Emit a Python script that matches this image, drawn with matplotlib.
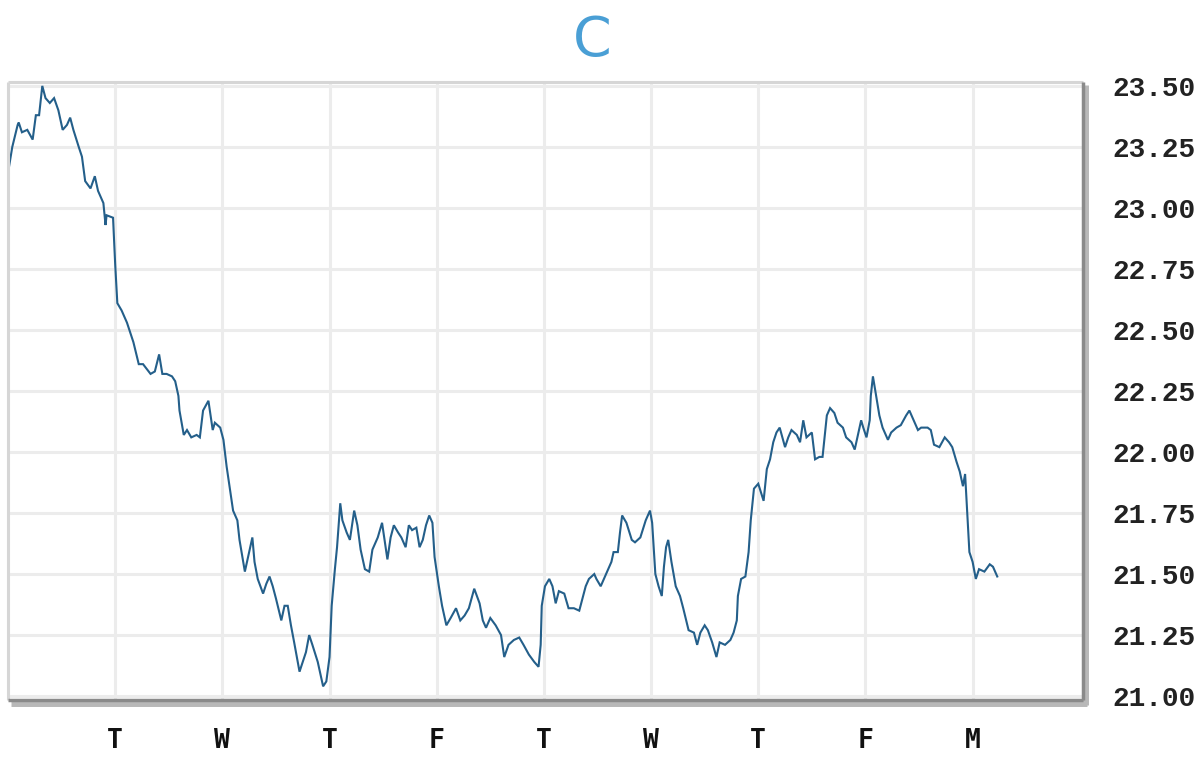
import matplotlib
matplotlib.use("Agg")
import matplotlib.pyplot as plt
from matplotlib.lines import Line2D

title = "C"
day_labels = ["T", "W", "T", "F", "T", "W", "T", "F", "M"]
day_ticks = [1, 2, 3, 4, 5, 6, 7, 8, 9]
price_ticks = [21.00, 21.25, 21.50, 21.75, 22.00, 22.25, 22.50, 22.75, 23.00, 23.25, 23.50]

days = [
    0.01, 0.04, 0.09, 0.10, 0.13, 0.18, 0.23, 0.26, 0.29, 0.32, 0.35, 0.39, 0.43, 0.47, 0.51,
    0.55, 0.58, 0.61, 0.66, 0.69, 0.72, 0.77, 0.81, 0.84, 0.89, 0.91, 0.92, 0.98, 1.00, 1.02,
    1.06, 1.11, 1.17, 1.22, 1.26, 1.33, 1.37, 1.41, 1.44, 1.48, 1.53, 1.56, 1.59, 1.60, 1.64,
    1.67, 1.71, 1.76, 1.79, 1.82, 1.87, 1.91, 1.93, 1.98, 2.01, 2.04, 2.07, 2.10, 2.14, 2.16,
    2.21, 2.24, 2.28, 2.30, 2.33, 2.38, 2.41, 2.44, 2.47, 2.50, 2.55, 2.58, 2.61, 2.64, 2.67,
    2.72, 2.75, 2.78, 2.81, 2.84, 2.89, 2.94, 2.97, 3.00, 3.02, 3.05, 3.07, 3.10, 3.12, 3.16,
    3.19, 3.23, 3.26, 3.29, 3.33, 3.37, 3.40, 3.45, 3.49, 3.54, 3.57, 3.60, 3.64, 3.67, 3.71,
    3.74, 3.77, 3.81, 3.84, 3.87, 3.90, 3.93, 3.96, 3.98, 4.02, 4.05, 4.09, 4.13, 4.18, 4.22,
    4.26, 4.30, 4.35, 4.40, 4.43, 4.46, 4.50, 4.55, 4.60, 4.63, 4.67, 4.72, 4.77, 4.81, 4.86,
    4.91, 4.95, 4.97, 4.98, 5.01, 5.05, 5.08, 5.11, 5.14, 5.19, 5.23, 5.28, 5.33, 5.36, 5.39,
    5.42, 5.47, 5.49, 5.53, 5.56, 5.60, 5.63, 5.65, 5.69, 5.71, 5.73, 5.77, 5.82, 5.85, 5.90,
    5.95, 5.99, 6.01, 6.04, 6.07, 6.10, 6.12, 6.14, 6.16, 6.19, 6.23, 6.27, 6.30, 6.35, 6.40,
    6.43, 6.46, 6.50, 6.53, 6.57, 6.61, 6.64, 6.69, 6.74, 6.77, 6.80, 6.81, 6.84, 6.88, 6.91,
    6.93, 6.96, 7.00, 7.05, 7.08, 7.11, 7.14, 7.17, 7.20, 7.25, 7.28, 7.31, 7.36, 7.39, 7.42,
    7.45, 7.50, 7.53, 7.57, 7.60, 7.64, 7.67, 7.71, 7.74, 7.79, 7.82, 7.87, 7.90, 7.92, 7.96,
    7.98, 8.01, 8.04, 8.05, 8.07, 8.10, 8.13, 8.16, 8.21, 8.24, 8.29, 8.33, 8.38, 8.41, 8.46,
    8.49, 8.52, 8.58, 8.61, 8.64, 8.69, 8.74, 8.78, 8.81, 8.85, 8.88, 8.91, 8.93, 8.95, 8.97,
    9.00, 9.03, 9.06, 9.11, 9.16, 9.19, 9.23,
]

prices = [
    23.17, 23.25, 23.34, 23.35, 23.31, 23.32, 23.28, 23.38, 23.38, 23.50, 23.45, 23.43, 23.45, 23.40, 23.32,
    23.34, 23.37, 23.32, 23.25, 23.21, 23.11, 23.08, 23.13, 23.07, 23.02, 22.93, 22.97, 22.96, 22.77, 22.61,
    22.58, 22.53, 22.45, 22.36, 22.36, 22.32, 22.33, 22.40, 22.32, 22.32, 22.31, 22.29, 22.23, 22.17, 22.07,
    22.09, 22.06, 22.07, 22.06, 22.17, 22.21, 22.09, 22.12, 22.10, 22.05, 21.94, 21.85, 21.76, 21.72, 21.64,
    21.51, 21.57, 21.65, 21.55, 21.48, 21.42, 21.46, 21.49, 21.45, 21.40, 21.31, 21.37, 21.37, 21.29, 21.22,
    21.10, 21.14, 21.18, 21.25, 21.21, 21.14, 21.04, 21.06, 21.16, 21.37, 21.52, 21.61, 21.79, 21.72, 21.67,
    21.64, 21.76, 21.70, 21.60, 21.52, 21.51, 21.60, 21.65, 21.71, 21.56, 21.65, 21.70, 21.67, 21.65, 21.61,
    21.70, 21.68, 21.69, 21.61, 21.64, 21.70, 21.74, 21.71, 21.57, 21.45, 21.37, 21.29, 21.32, 21.36, 21.31,
    21.33, 21.36, 21.44, 21.38, 21.31, 21.28, 21.32, 21.29, 21.25, 21.16, 21.21, 21.23, 21.24, 21.21, 21.17,
    21.14, 21.12, 21.21, 21.37, 21.45, 21.48, 21.45, 21.38, 21.43, 21.42, 21.36, 21.36, 21.35, 21.40, 21.45,
    21.48, 21.50, 21.48, 21.45, 21.48, 21.52, 21.55, 21.59, 21.59, 21.67, 21.74, 21.71, 21.64, 21.63, 21.65,
    21.72, 21.76, 21.71, 21.50, 21.45, 21.41, 21.53, 21.61, 21.64, 21.55, 21.45, 21.41, 21.36, 21.27, 21.26,
    21.21, 21.26, 21.29, 21.27, 21.22, 21.16, 21.22, 21.21, 21.23, 21.26, 21.31, 21.41, 21.48, 21.49, 21.59,
    21.72, 21.85, 21.87, 21.80, 21.93, 21.97, 22.04, 22.08, 22.10, 22.02, 22.06, 22.09, 22.07, 22.04, 22.13,
    22.06, 22.08, 21.97, 21.98, 21.98, 22.15, 22.18, 22.16, 22.12, 22.10, 22.06, 22.04, 22.01, 22.05, 22.13,
    22.10, 22.06, 22.13, 22.23, 22.31, 22.23, 22.15, 22.10, 22.05, 22.08, 22.10, 22.11, 22.15, 22.17, 22.12,
    22.09, 22.10, 22.10, 22.09, 22.03, 22.02, 22.06, 22.04, 22.02, 21.96, 21.92, 21.86, 21.91, 21.75, 21.59,
    21.55, 21.48, 21.52, 21.51, 21.54, 21.53, 21.49,
]

W, H = 1200, 771
fig = plt.figure(figsize=(W / 100, H / 100), dpi=100)
fig.patch.set_facecolor("white")

ax_l, ax_r, ax_t, ax_b = 8, 1083, 82, 700
ax = fig.add_axes([ax_l / W, 1 - ax_b / H, (ax_r - ax_l) / W, (ax_b - ax_t) / H])
ax.set_facecolor("white")

ax.plot(days, prices, color="#245f8a", lw=1.5, solid_joinstyle="miter", zorder=3)

ax.set_xlim(0.0, 10.03)
ax.set_ylim(20.984, 23.516)

ax.set_xticks(day_ticks)
ax.set_xticklabels(day_labels)
ax.set_yticks(price_ticks)
ax.set_yticklabels([f"{v:.2f}" for v in price_ticks])
ax.yaxis.tick_right()
ax.tick_params(axis="both", length=0)
ax.tick_params(axis="y", pad=21)
ax.tick_params(axis="x", pad=20)
for lab in ax.get_yticklabels():
    lab.set_fontfamily("Liberation Mono")
    lab.set_fontweight("bold")
    lab.set_fontsize(20)
    lab.set_color("#222222")
for lab in ax.get_xticklabels():
    lab.set_fontfamily("DejaVu Sans Mono")
    lab.set_fontweight("bold")
    lab.set_fontsize(19)
    lab.set_color("#111111")

ax.grid(True, color="#ececec", lw=2.2, zorder=0)
ax.set_axisbelow(True)

for s in ax.spines.values():
    s.set_visible(False)

# frame: light top/left, dark right/bottom with shadow
def fl(x0, y0, x1, y1, color, lw):
    fig.add_artist(Line2D([x0 / W, x1 / W], [1 - y0 / H, 1 - y1 / H],
                          color=color, lw=lw, solid_capstyle="butt", zorder=5))

fl(ax_l, ax_t, ax_r, ax_t, "#d6d6d6", 2.2)
fl(ax_l, ax_t, ax_l, ax_b, "#d6d6d6", 2.2)
fl(ax_l + 3, ax_b + 3, ax_r + 4, ax_b + 3, "#b8b8b8", 5)
fl(ax_r + 2, ax_t + 3, ax_r + 2, ax_b + 5, "#b8b8b8", 5)
fl(ax_l, ax_b, ax_r, ax_b, "#8a8a8a", 2.5)
fl(ax_r, ax_t, ax_r, ax_b, "#8a8a8a", 2.5)

fig.text(592 / W, 1 - 41 / H, title, ha="center", va="center",
         fontsize=40, color="#4a9fd5", family="DejaVu Sans")

fig.savefig("out.png", dpi=100, facecolor="white")
